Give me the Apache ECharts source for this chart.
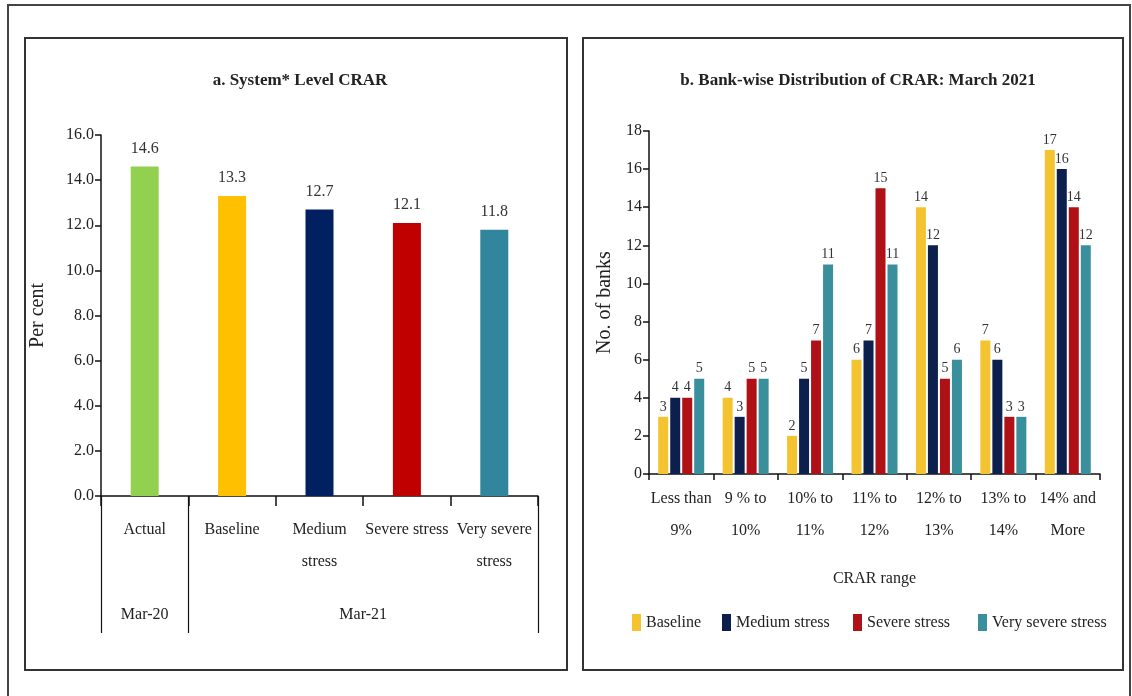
<!DOCTYPE html>
<html><head><meta charset="utf-8">
<script src="https://cdn.jsdelivr.net/npm/echarts@6/dist/echarts.min.js"></script>
<style>html,body{margin:0;padding:0;background:#fff}#c{width:1132px;height:696px}</style>
</head><body><div id="c"></div>
<script>
// ---- Data ----
const leftTitle = 'a. System* Level CRAR';
const leftCategories = ['Actual', 'Baseline', 'Medium\nstress', 'Severe stress', 'Very severe\nstress'];
const leftValues = [14.6, 13.3, 12.7, 12.1, 11.8];
const leftGroups = ['Mar-20', 'Mar-21'];
const leftGroupSpans = [[0, 1], [1, 5]]; // category index ranges covered by each group
const leftYName = 'Per cent';

const rightTitle = 'b. Bank-wise Distribution of CRAR: March 2021';
const rightCategories = ['Less than\n9%', '9 % to\n10%', '10% to\n11%', '11% to\n12%', '12% to\n13%', '13% to\n14%', '14% and\nMore'];
const seriesNames = ['Baseline', 'Medium stress', 'Severe stress', 'Very severe stress'];
const baselineVals = [3, 4, 2, 6, 14, 7, 17];
const mediumVals = [4, 3, 5, 7, 12, 6, 16];
const severeVals = [4, 5, 7, 15, 5, 3, 14];
const verySevereVals = [5, 5, 11, 11, 6, 3, 12];
const rightYName = 'No. of banks';
const rightXName = 'CRAR range';

// ---- Styles ----
const FONT = "'Liberation Serif', 'DejaVu Serif', serif";
const TXT = '#222';
const leftColors = ['#92D050', '#FFC000', '#002060', '#C00000', '#31859C'];
const rightColors = ['#F4C430', '#0C1F4D', '#B01116', '#3A8F9C'];
const legendLefts = [627, 717, 848, 973];

const chart = echarts.init(document.getElementById('c'));

const groupCenters = leftGroupSpans.map(s => (s[0] + s[1]) / 2);
const groupBounds = Array.from(new Set(leftGroupSpans.flat()));

const rightData = [baselineVals, mediumVals, severeVals, verySevereVals];

const axisLineStyle = { color: '#111', width: 1.5 };
const tickStyle = { color: '#111', width: 1.5 };

const option = {
  backgroundColor: '#fff',
  animation: false,
  graphic: [
    { type: 'rect', shape: { x: 8, y: 5, width: 1122, height: 700 }, style: { fill: 'none', stroke: '#444', lineWidth: 2 } },
    { type: 'rect', shape: { x: 25, y: 38, width: 542, height: 632 }, style: { fill: 'none', stroke: '#333', lineWidth: 2 } },
    { type: 'rect', shape: { x: 583, y: 38, width: 540, height: 632 }, style: { fill: 'none', stroke: '#333', lineWidth: 2 } }
  ],
  title: [
    { text: leftTitle, left: 295, top: 67, textAlign: 'center',
      textStyle: { fontFamily: FONT, fontSize: 17, fontWeight: 'bold', color: TXT } },
    { text: rightTitle, left: 853, top: 67, textAlign: 'center',
      textStyle: { fontFamily: FONT, fontSize: 17, fontWeight: 'bold', color: TXT } }
  ],
  legend: seriesNames.map((n, i) => ({
    data: [n], left: legendLefts[i], top: 609, icon: 'rect', itemWidth: 9, itemHeight: 17,
    textStyle: { fontFamily: FONT, fontSize: 16, color: TXT }, selectedMode: false
  })),
  grid: [
    { left: 101, right: 594, top: 135, bottom: 200 },
    { left: 649, right: 32, top: 131, bottom: 222 }
  ],
  xAxis: [
    { type: 'category', gridIndex: 0, data: leftCategories,
      axisLine: { lineStyle: axisLineStyle },
      axisTick: { show: true, length: 10, lineStyle: tickStyle },
      axisLabel: { interval: 0, margin: 18, lineHeight: 32, fontFamily: FONT, fontSize: 16, color: TXT } },
    { type: 'value', gridIndex: 0, min: 0, max: 5, position: 'bottom',
      axisLine: { show: false }, splitLine: { show: false },
      axisTick: { show: true, customValues: groupBounds, length: 137, lineStyle: { color: '#111', width: 1.2 } },
      axisLabel: { customValues: groupCenters, margin: 111, fontFamily: FONT, fontSize: 16, color: TXT,
        formatter: v => { const k = groupCenters.indexOf(v); return k >= 0 ? leftGroups[k] : ''; } } },
    { type: 'category', gridIndex: 1, data: rightCategories,
      name: rightXName, nameLocation: 'middle', nameGap: 97,
      nameTextStyle: { fontFamily: FONT, fontSize: 16, color: TXT },
      axisLine: { lineStyle: axisLineStyle },
      axisTick: { show: true, length: 6, lineStyle: tickStyle },
      axisLabel: { interval: 0, margin: 9, lineHeight: 32, fontFamily: FONT, fontSize: 16, color: TXT } }
  ],
  yAxis: [
    { type: 'value', gridIndex: 0, min: 0, max: 16, interval: 2,
      name: leftYName, nameLocation: 'middle', nameGap: 53, nameRotate: 90,
      nameTextStyle: { fontFamily: FONT, fontSize: 20, color: TXT },
      axisLine: { show: true, lineStyle: axisLineStyle },
      axisTick: { show: true, length: 6, lineStyle: tickStyle },
      splitLine: { show: false },
      axisLabel: { margin: 7, fontFamily: FONT, fontSize: 16, color: TXT, formatter: v => v.toFixed(1) } },
    { type: 'value', gridIndex: 1, min: 0, max: 18, interval: 2,
      name: rightYName, nameLocation: 'middle', nameGap: 34, nameRotate: 90,
      nameTextStyle: { fontFamily: FONT, fontSize: 20, color: TXT },
      axisLine: { show: true, lineStyle: axisLineStyle },
      axisTick: { show: true, length: 6, lineStyle: tickStyle },
      splitLine: { show: false },
      axisLabel: { margin: 7, fontFamily: FONT, fontSize: 16, color: TXT } }
  ],
  series: [
    { type: 'bar', name: 'CRAR', xAxisIndex: 0, yAxisIndex: 0, barWidth: 28,
      data: leftValues.map((v, i) => ({ value: v, itemStyle: { color: leftColors[i] } })),
      label: { show: true, position: 'top', distance: 10, fontFamily: FONT, fontSize: 16, color: '#333',
        formatter: p => p.value.toFixed(1) } }
  ].concat(seriesNames.map((n, i) => ({
    type: 'bar', name: n, xAxisIndex: 2, yAxisIndex: 1, barWidth: 10, barGap: '20%',
    itemStyle: { color: rightColors[i] },
    data: rightData[i],
    label: { show: true, position: 'top', distance: 3, fontFamily: FONT, fontSize: 14, color: '#333' }
  })))
};
chart.setOption(option);
</script></body></html>
